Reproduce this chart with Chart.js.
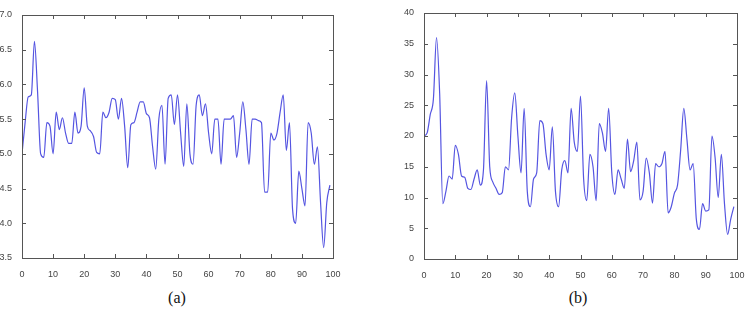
<!DOCTYPE html>
<html>
<head>
<meta charset="utf-8">
<script src="https://cdn.jsdelivr.net/npm/chart.js@4/dist/chart.umd.min.js"></script>
<style>
  body { margin: 0; background: #fff; width: 749px; height: 322px; position: relative; overflow: hidden; }
  canvas { position: absolute; top: 0; }
  #chartA { left: 0; }
  #chartB { left: 400px; }
  .caption { position: absolute; top: 289px; font-family: 'Liberation Serif', 'DejaVu Serif', serif; font-size: 16px; color: #111; transform: translateX(-50%); }
</style>
</head>
<body>
<canvas id="chartA" width="345" height="280"></canvas>
<canvas id="chartB" width="349" height="280"></canvas>
<div class="caption" style="left:177px">(a)</div>
<div class="caption" style="left:578px">(b)</div>
<script>
// sample index 0..99
const xs = Array.from({ length: 100 }, (_, i) => i)

// (a) series
const seriesA = [
	5.0, 5.45, 5.82, 5.85, 6.62, 5.9, 5.0, 4.95, 5.45, 5.4,
	5.0, 5.6, 5.35, 5.52, 5.3, 5.15, 5.15, 5.6, 5.3, 5.4,
	5.95, 5.4, 5.33, 5.25, 5.02, 5.0, 5.6, 5.52, 5.6, 5.8,
	5.78, 5.5, 5.8, 5.4, 4.8, 5.42, 5.45, 5.6, 5.75, 5.75,
	5.58, 5.52, 5.1, 4.78, 5.5, 5.7, 4.85, 5.8, 5.85, 5.42,
	5.85, 5.3, 4.82, 5.72, 5.0, 4.85, 5.7, 5.85, 5.55, 5.72,
	5.3, 5.0, 5.5, 5.5, 4.85, 5.5, 5.5, 5.5, 5.55, 4.95,
	5.3, 5.75, 5.35, 4.85, 5.5, 5.5, 5.48, 5.45, 4.45, 4.45,
	5.3, 5.2, 5.3, 5.6, 5.85, 5.05, 5.45, 4.2, 4.0, 4.75,
	4.5, 4.25, 5.45, 5.3, 4.85, 5.1, 4.3, 3.65, 4.3, 4.55
]

// (b) series
const seriesB = [
	20, 20.5, 23.5, 26, 36, 27, 9, 11, 13.5, 13,
	18.5, 17, 13.5, 13.3, 11.5, 11.3, 13, 14.5, 12, 14.5,
	29, 15, 12.5, 11.5, 10.5, 10.8, 15, 14.5, 23, 27,
	20, 14, 24.5, 11, 8.5, 13, 14, 22.5, 22, 17,
	14.5, 21.5, 11, 8.5, 14.5, 16, 14, 24.5, 19, 17.5,
	26.5, 13, 9.5, 17, 15, 9.5, 22, 20.5, 17.5, 24.5,
	14, 10.5, 14.5, 13, 11.5, 19.5, 14.2, 16, 19, 9.6,
	11, 16.4, 14, 9.1, 15.5, 15, 15.5, 17.5, 7.5, 8.5,
	10.7, 12, 17.7, 24.5, 19.5, 14.5, 15.5, 6.5, 4.8, 9,
	7.8, 8, 20, 16.5, 10, 17, 9, 4, 6.5, 8.5
]

// axis ranges and steps
const xRange = [0, 100, 10]
const yRangeA = [3.5, 7, 0.5]
const yRangeB = [0, 40, 5]

const lineColor = 'rgb(85, 85, 225)'
const axisColor = '#555'

// matlab-like box with inward ticks on all four sides
const boxTicks = {
	id: 'boxTicks',
	afterDraw(chart) {
		const { ctx, chartArea: a, scales } = chart
		const len = 4
		ctx.save()
		ctx.strokeStyle = axisColor
		ctx.lineWidth = 1
		ctx.strokeRect(a.left + 0.5, a.top + 0.5, a.right - a.left, a.bottom - a.top)
		ctx.beginPath()
		scales.x.ticks.forEach(t => {
			const px = Math.round(scales.x.getPixelForValue(t.value)) + 0.5
			ctx.moveTo(px, a.bottom); ctx.lineTo(px, a.bottom - len)
			ctx.moveTo(px, a.top); ctx.lineTo(px, a.top + len)
		})
		scales.y.ticks.forEach(t => {
			const py = Math.round(scales.y.getPixelForValue(t.value)) + 0.5
			ctx.moveTo(a.left, py); ctx.lineTo(a.left + len, py)
			ctx.moveTo(a.right, py); ctx.lineTo(a.right - len, py)
		})
		ctx.stroke()
		ctx.restore()
	}
}

const makeChart = (id, values, yRange, yWidth, xHeight, pad) => {
	return new Chart(document.getElementById(id), {
		type: 'line',
		data: {
			datasets: [{
				data: xs.map((x, i) => ({ x, y: values[i] })),
				borderColor: lineColor,
				borderWidth: 1.2,
				pointRadius: 0,
				cubicInterpolationMode: 'monotone',
				fill: false
			}]
		},
		options: {
			responsive: false,
			devicePixelRatio: 1,
			animation: false,
			layout: { padding: pad },
			plugins: { legend: { display: false }, tooltip: { enabled: false } },
			scales: {
				x: {
					type: 'linear',
					min: xRange[0], max: xRange[1],
					grid: { display: false },
					border: { display: false },
					ticks: { stepSize: xRange[2], padding: 3, maxRotation: 0, color: '#444', font: { family: 'Liberation Sans', size: 9 } },
					afterFit: s => { s.height = xHeight }
				},
				y: {
					min: yRange[0], max: yRange[1],
					grid: { display: false },
					border: { display: false },
					ticks: { stepSize: yRange[2], padding: 2, color: '#444', font: { family: 'Liberation Sans', size: 9 } },
					afterFit: s => { s.width = yWidth }
				}
			}
		},
		plugins: [boxTicks]
	})
}

makeChart('chartA', seriesA, yRangeA, 22, 22, { top: 15, right: 12, left: 0, bottom: 0 })
makeChart('chartB', seriesB, yRangeB, 24, 21, { top: 13, right: 12, left: 0, bottom: 0 })
</script>
</body>
</html>
